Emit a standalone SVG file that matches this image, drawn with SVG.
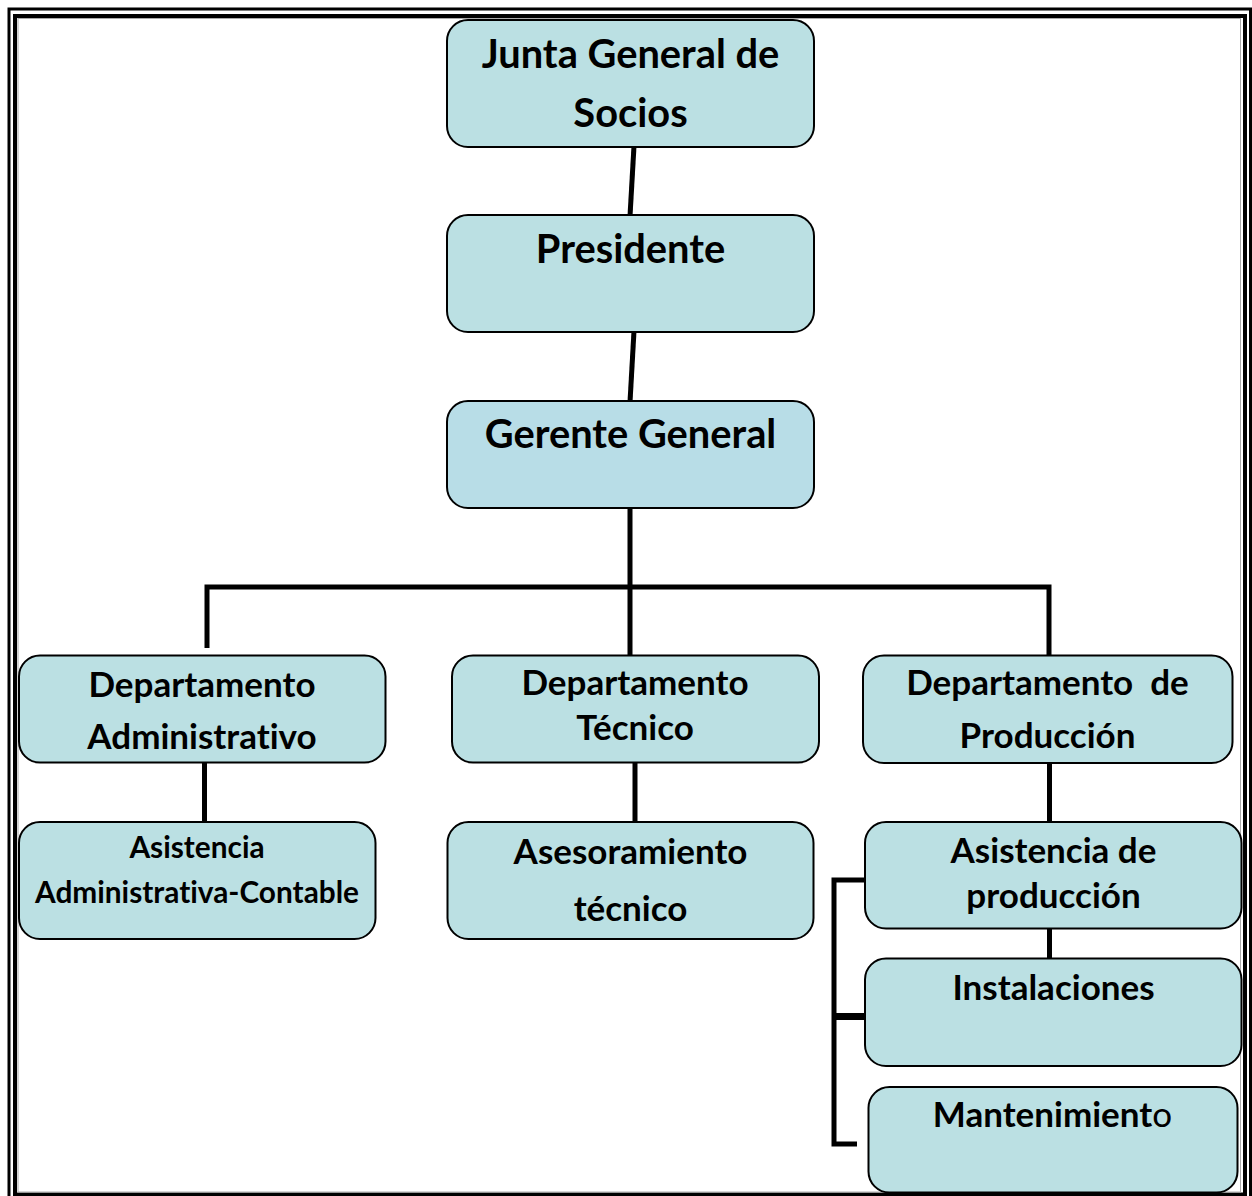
<svg xmlns="http://www.w3.org/2000/svg" width="1252" height="1196" viewBox="0 0 1252 1196">
  <style>
    .box { fill: #bbe0e3; stroke: #000; stroke-width: 2; }
    .t { font-family: Lato, "Liberation Sans", sans-serif; font-weight: bold; fill: #000; text-anchor: middle; font-variant-ligatures: none; }
    .l { font-size: 39.8px; }
    .m { font-size: 35px; }
    .s { font-size: 29.8px; }
    .wire { stroke: #000; stroke-width: 5; fill: none; stroke-linecap: butt; }
  </style>

  <rect width="1252" height="1196" fill="#fff"/>

  <!-- page frame: thin outer rule, thick inner rule, grey hairline -->
  <g id="frame" fill="none">
    <rect x="9" y="9" width="1241.5" height="1200" stroke="#000" stroke-width="3"/>
    <rect x="15" y="16" width="1230" height="1178.5" stroke="#000" stroke-width="4"/>
    <rect x="18" y="18.5" width="1222.5" height="1173.5" stroke="#aaa" stroke-width="1"/>
  </g>

  <!-- connectors -->
  <g id="connectors" class="wire">
    <line x1="634" y1="146" x2="630" y2="216"/>
    <line x1="634" y1="331" x2="630" y2="402"/>
    <line x1="630" y1="508" x2="630" y2="656"/>
    <polyline points="207,648 207,587 1049,587 1049,656"/>
    <line x1="204.5" y1="762" x2="204.5" y2="823"/>
    <line x1="635" y1="762" x2="635" y2="823"/>
    <line x1="1049.5" y1="762" x2="1049.5" y2="823"/>
    <line x1="1049.5" y1="928" x2="1049.5" y2="959"/>
    <polyline points="865,880 834,880 834,1144 857,1144"/>
    <line x1="834" y1="1016.5" x2="865" y2="1016.5" stroke-width="7"/>
  </g>

  <g id="junta">
    <rect class="box" x="447" y="20" width="367" height="127" rx="21"/>
    <text class="t l" x="630.5" y="67.5">Junta General de</text>
    <text class="t l" x="630.5" y="127">Socios</text>
  </g>

  <g id="presidente">
    <rect class="box" x="447" y="215" width="367" height="117" rx="21"/>
    <text class="t l" x="630.5" y="262.7">Presidente</text>
  </g>

  <g id="gerente">
    <rect class="box" x="447" y="401" width="367" height="107" rx="21" style="fill:#b8dde7"/>
    <text class="t l" x="630.5" y="448">Gerente General</text>
  </g>

  <g id="dep-administrativo">
    <rect class="box" x="19" y="655.5" width="366.5" height="107" rx="21"/>
    <text class="t m" x="202" y="696.5">Departamento</text>
    <text class="t m" x="202" y="749.3">Administrativo</text>
  </g>

  <g id="dep-tecnico">
    <rect class="box" x="452" y="655.5" width="367" height="107" rx="21"/>
    <text class="t m" x="635" y="695">Departamento</text>
    <text class="t m" x="635" y="740">Técnico</text>
  </g>

  <g id="dep-produccion">
    <rect class="box" x="863" y="655.5" width="369.5" height="107.5" rx="21"/>
    <text class="t m" x="1047.5" y="695" xml:space="preserve">Departamento  de</text>
    <text class="t m" x="1047.5" y="748">Producción</text>
  </g>

  <g id="asistencia-contable">
    <rect class="box" x="19" y="822" width="356.5" height="117" rx="21"/>
    <text class="t s" x="197" y="857.7">Asistencia</text>
    <text class="t s" x="197" y="903.3">Administrativa-Contable</text>
  </g>

  <g id="asesoramiento">
    <rect class="box" x="447.5" y="822" width="366" height="117" rx="21"/>
    <text class="t m" x="630.5" y="864">Asesoramiento</text>
    <text class="t m" x="630.5" y="920.7">técnico</text>
  </g>

  <g id="asistencia-produccion">
    <rect class="box" x="865" y="822" width="376.5" height="106.5" rx="21"/>
    <text class="t m" x="1053.5" y="863.3">Asistencia de</text>
    <text class="t m" x="1053.5" y="908.3">producción</text>
  </g>

  <g id="instalaciones">
    <rect class="box" x="865" y="958.5" width="376.5" height="107.5" rx="21"/>
    <text class="t m" x="1053.5" y="1000">Instalaciones</text>
  </g>

  <g id="mantenimiento">
    <rect class="box" x="868.5" y="1087" width="369" height="105.5" rx="21"/>
    <text class="t m" x="1052.5" y="1126.7">Mantenimient<tspan font-weight="normal">o</tspan></text>
  </g>
</svg>
